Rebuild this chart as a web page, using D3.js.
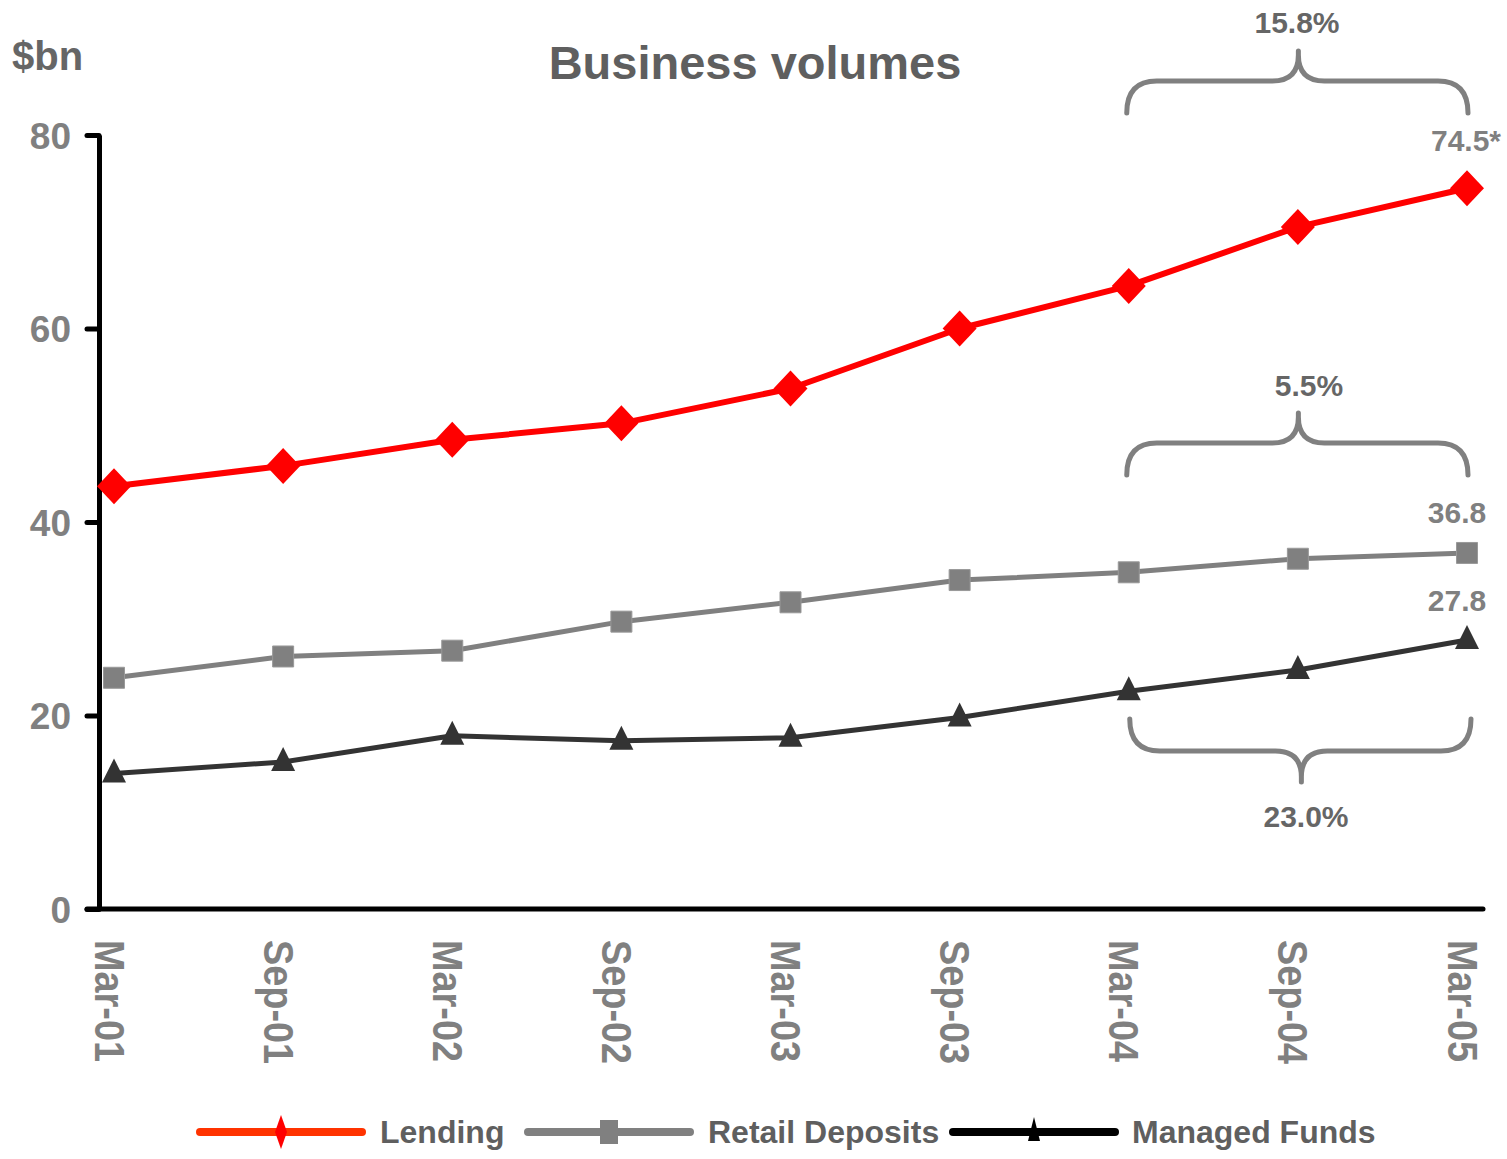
<!DOCTYPE html>
<html>
<head>
<meta charset="utf-8">
<script src="https://cdn.jsdelivr.net/npm/d3@7"></script>
<style>
  html, body { margin: 0; padding: 0; background: #fff; }
  svg { display: block; font-family: "Liberation Sans", Arial, sans-serif; font-weight: bold; }
</style>
</head>
<body>
<svg id="chart" width="1507" height="1159"></svg>
<script>
// ---- data ----
const categories = ["Mar-01","Sep-01","Mar-02","Sep-02","Mar-03","Sep-03","Mar-04","Sep-04","Mar-05"];
const lending = [43.7, 45.8, 48.5, 50.2, 53.8, 60.0, 64.4, 70.5, 74.5];
const retailDeposits = [23.9, 26.1, 26.7, 29.7, 31.7, 34.0, 34.8, 36.2, 36.8];
const managedFunds = [14.0, 15.2, 17.9, 17.4, 17.7, 19.8, 22.5, 24.7, 27.8];
const yTicks = [0, 20, 40, 60, 80];
const seriesNames = ["Lending", "Retail Deposits", "Managed Funds"];
const endLabels = ["74.5*", "36.8", "27.8"];
const growthLabels = ["15.8%", "5.5%", "23.0%"];

// ---- setup ----
const svg = d3.select("#chart");
const x = d3.scalePoint().domain(categories).range([114, 1467]);
const y = d3.scaleLinear().domain([0, 80]).range([909, 135]);

// title
svg.append("text").attr("x", 755).attr("y", 79).attr("text-anchor", "middle")
  .attr("font-size", 47).attr("fill", "#5f5f5f").text("Business volumes");
svg.append("text").attr("x", 12).attr("y", 70)
  .attr("font-size", 40).attr("fill", "#666").text("$bn");

// y axis
const yAxis = svg.append("g").attr("transform", "translate(99,0)")
  .call(d3.axisLeft(y).tickValues(yTicks).tickSize(12).tickSizeOuter(0).tickPadding(0));
yAxis.select(".domain").attr("stroke", "#000").attr("stroke-width", 5);
yAxis.selectAll(".tick line").attr("stroke", "#000").attr("stroke-width", 5).attr("stroke-linecap", "round");
yAxis.selectAll(".tick text").attr("x", -28).attr("dy", "0.36em")
  .attr("font-size", 37).attr("font-weight", "bold").attr("font-family", "'Liberation Sans', Arial, sans-serif")
  .attr("fill", "#808080");

// x axis
const xAxis = svg.append("g").attr("transform", "translate(0,909)")
  .call(d3.axisBottom(x).tickSize(0).tickSizeOuter(0));
xAxis.select(".domain").attr("d", "M87,0H1483").attr("stroke", "#000").attr("stroke-width", 5).attr("stroke-linecap", "round");
xAxis.selectAll(".tick text")
  .attr("transform", "translate(-20,31) rotate(90) scale(0.88,1)")
  .attr("x", 0).attr("y", 0).attr("dy", 0)
  .attr("text-anchor", "start")
  .attr("font-size", 43).attr("font-weight", "bold").attr("font-family", "'Liberation Sans', Arial, sans-serif")
  .attr("fill", "#808080");

// series
const series = [
  { name: seriesNames[0], values: lending, color: "#ff0000", width: 6, marker: "diamond" },
  { name: seriesNames[1], values: retailDeposits, color: "#808080", width: 5, marker: "square" },
  { name: seriesNames[2], values: managedFunds, color: "#333333", width: 5, marker: "triangle" }
];
const line = d3.line().x((d, i) => x(categories[i])).y(d => y(d));

function markerPath(type) {
  if (type === "diamond") return "M0,-18L17,0L0,18L-17,0Z";
  if (type === "square") return "M-10.5,-10.5H10.5V10.5H-10.5Z";
  return "M0,-15L12,9H-12Z";
}

series.forEach(s => {
  svg.append("path").datum(s.values).attr("d", line)
    .attr("fill", "none").attr("stroke", s.color).attr("stroke-width", s.width).attr("stroke-linejoin", "round");
  svg.append("g").selectAll("path").data(s.values).join("path")
    .attr("transform", (d, i) => `translate(${x(categories[i])},${y(d)})`)
    .attr("d", markerPath(s.marker))
    .attr("fill", s.color)
    .attr("stroke", s.marker === "square" ? "#999" : "none")
    .attr("stroke-width", 1);
});

// end value labels
const lastCat = categories[categories.length - 1];
[[lending, 151, endLabels[0], 1466], [retailDeposits, 523, endLabels[1], 1457], [managedFunds, 611, endLabels[2], 1457]]
  .forEach(([vals, by, lbl, cx]) => {
    svg.append("text").attr("x", cx).attr("y", by).attr("text-anchor", "middle")
      .attr("font-size", 30).attr("fill", "#808080").text(lbl);
  });

// braces
function brace(x1, x2, yEnd, yH, yTip) {
  const xm = (x1 + x2) / 2 + 1;
  const s = Math.sign(yEnd - yH); // +1 : ends below horizontal
  const r = 30, r2 = 26;
  return `M${x1},${yEnd} Q${x1},${yH} ${x1 + r},${yH} L${xm - r2},${yH} Q${xm},${yH} ${xm},${yH - s * r2} L${xm},${yTip}` +
         `M${xm},${yH - s * r2} Q${xm},${yH} ${xm + r2},${yH} L${x2 - r},${yH} Q${x2},${yH} ${x2},${yEnd}`;
}
const bx1 = x("Mar-04") - 2, bx2 = x(lastCat) + 1;
const braceG = svg.append("g").attr("fill", "none").attr("stroke", "#808080").attr("stroke-width", 5).attr("stroke-linecap", "round");
braceG.append("path").attr("d", brace(bx1, bx2, 113, 81, 51));
braceG.append("path").attr("d", brace(bx1, bx2, 475, 443, 413));
braceG.append("path").attr("d", brace(bx1 + 3, bx2 + 3, 719, 751, 782));

svg.append("text").attr("x", 1297).attr("y", 33).attr("text-anchor", "middle").attr("font-size", 30).attr("fill", "#666").text(growthLabels[0]);
svg.append("text").attr("x", 1309).attr("y", 396).attr("text-anchor", "middle").attr("font-size", 30).attr("fill", "#666").text(growthLabels[1]);
svg.append("text").attr("x", 1306).attr("y", 827).attr("text-anchor", "middle").attr("font-size", 30).attr("fill", "#666").text(growthLabels[2]);

// legend
const legendItems = [
  { name: seriesNames[0], lineColor: "#ff3300", markColor: "#ff0000", x0: 200, x1: 362, tx: 380, mark: "M0,-17L6,0L0,17L-6,0Z" },
  { name: seriesNames[1], lineColor: "#808080", markColor: "#808080", x0: 528, x1: 690, tx: 708, mark: "M-9,-12H9V12H-9Z" },
  { name: seriesNames[2], lineColor: "#000000", markColor: "#000000", x0: 953, x1: 1115, tx: 1132, mark: "M0,-15L6,9H-6Z" }
];
const lg = svg.append("g");
legendItems.forEach(it => {
  lg.append("line").attr("x1", it.x0).attr("x2", it.x1).attr("y1", 1132).attr("y2", 1132)
    .attr("stroke", it.lineColor).attr("stroke-width", 8).attr("stroke-linecap", "round");
  lg.append("path").attr("transform", `translate(${(it.x0 + it.x1) / 2},1132)`).attr("d", it.mark).attr("fill", it.markColor);
  lg.append("text").attr("x", it.tx).attr("y", 1143).attr("font-size", 32).attr("fill", "#5f5f5f").text(it.name);
});
</script>
</body>
</html>
